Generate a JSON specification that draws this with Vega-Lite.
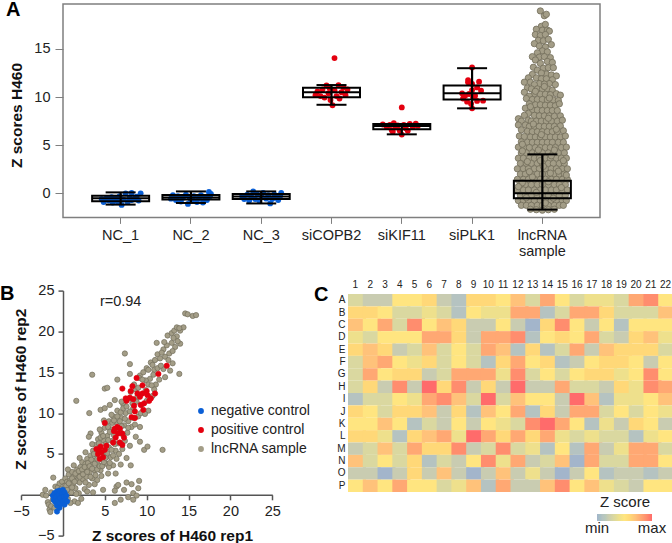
{"$schema":"https://vega.github.io/schema/vega-lite/v6.json","padding":{"left":0,"top":-1,"right":0,"bottom":0},"bounds":"flush","spacing":72.6,"config":{"font":"Liberation Sans","view":{"stroke":null},"axis":{"grid":false,"labelFont":"Liberation Sans","titleFont":"Liberation Sans"},"legend":{"labelFont":"Liberation Sans","titleFont":"Liberation Sans"}},
"datasets":{
"box":[{"cat":"NC_1","lo":-1.17,"q1":-0.83,"med":-0.52,"q3":-0.25,"hi":0.1},{"cat":"NC_2","lo":-1.0,"q1":-0.65,"med":-0.42,"q3":-0.18,"hi":0.2},{"cat":"NC_3","lo":-1.05,"q1":-0.6,"med":-0.33,"q3":-0.07,"hi":0.2},{"cat":"siCOPB2","lo":9.2,"q1":9.97,"med":10.5,"q3":10.98,"hi":11.25},{"cat":"siKIF11","lo":6.13,"q1":6.65,"med":7.0,"q3":7.2,"hi":7.2},{"cat":"siPLK1","lo":8.83,"q1":9.76,"med":10.4,"q3":11.2,"hi":13.0},{"cat":"lncRNA sample","lo":-1.69,"q1":-0.52,"med":0.0,"q3":1.32,"hi":4.05}],
"ctrl":[
{"cat":"NC_1","t":"n","j":-19,"z":-0.6},{"cat":"NC_1","t":"n","j":-17,"z":-0.9},{"cat":"NC_1","t":"n","j":-14,"z":-0.5},{"cat":"NC_1","t":"n","j":-12,"z":-0.75},{"cat":"NC_1","t":"n","j":-9,"z":-0.4},{"cat":"NC_1","t":"n","j":-8,"z":-0.95},{"cat":"NC_1","t":"n","j":-5,"z":-0.55},{"cat":"NC_1","t":"n","j":-3,"z":-0.85},{"cat":"NC_1","t":"n","j":-1,"z":-0.3},{"cat":"NC_1","t":"n","j":1,"z":-1.2},{"cat":"NC_1","t":"n","j":3,"z":-0.65},{"cat":"NC_1","t":"n","j":5,"z":0.0},{"cat":"NC_1","t":"n","j":7,"z":-0.9},{"cat":"NC_1","t":"n","j":9,"z":-0.45},{"cat":"NC_1","t":"n","j":11,"z":-0.7},{"cat":"NC_1","t":"n","j":11,"z":0.05},{"cat":"NC_1","t":"n","j":14,"z":-0.55},{"cat":"NC_1","t":"n","j":16,"z":-0.35},{"cat":"NC_1","t":"n","j":18,"z":-0.75},{"cat":"NC_1","t":"n","j":20,"z":0.0},
{"cat":"NC_2","t":"n","j":-20,"z":-0.55},{"cat":"NC_2","t":"n","j":-18,"z":-0.2},{"cat":"NC_2","t":"n","j":-15,"z":-0.7},{"cat":"NC_2","t":"n","j":-13,"z":-0.3},{"cat":"NC_2","t":"n","j":-10,"z":-0.85},{"cat":"NC_2","t":"n","j":-8,"z":-0.45},{"cat":"NC_2","t":"n","j":-5,"z":-0.15},{"cat":"NC_2","t":"n","j":-3,"z":-1.1},{"cat":"NC_2","t":"n","j":-1,"z":-0.5},{"cat":"NC_2","t":"n","j":1,"z":-0.75},{"cat":"NC_2","t":"n","j":3,"z":-0.3},{"cat":"NC_2","t":"n","j":6,"z":-0.9},{"cat":"NC_2","t":"n","j":8,"z":-0.5},{"cat":"NC_2","t":"n","j":10,"z":-0.2},{"cat":"NC_2","t":"n","j":12,"z":-0.95},{"cat":"NC_2","t":"n","j":14,"z":-0.4},{"cat":"NC_2","t":"n","j":16,"z":-0.7},{"cat":"NC_2","t":"n","j":18,"z":0.15},{"cat":"NC_2","t":"n","j":19,"z":-0.3},{"cat":"NC_2","t":"n","j":20,"z":-0.05},
{"cat":"NC_3","t":"n","j":-19,"z":-0.3},{"cat":"NC_3","t":"n","j":-17,"z":-0.6},{"cat":"NC_3","t":"n","j":-14,"z":-0.15},{"cat":"NC_3","t":"n","j":-12,"z":-0.75},{"cat":"NC_3","t":"n","j":-10,"z":-0.35},{"cat":"NC_3","t":"n","j":-8,"z":0.2},{"cat":"NC_3","t":"n","j":-6,"z":-0.6},{"cat":"NC_3","t":"n","j":-4,"z":-0.1},{"cat":"NC_3","t":"n","j":-2,"z":-0.75},{"cat":"NC_3","t":"n","j":0,"z":-0.3},{"cat":"NC_3","t":"n","j":2,"z":0.05},{"cat":"NC_3","t":"n","j":5,"z":-0.55},{"cat":"NC_3","t":"n","j":7,"z":-0.2},{"cat":"NC_3","t":"n","j":9,"z":-1.05},{"cat":"NC_3","t":"n","j":11,"z":-0.6},{"cat":"NC_3","t":"n","j":13,"z":-0.1},{"cat":"NC_3","t":"n","j":15,"z":-0.45},{"cat":"NC_3","t":"n","j":17,"z":-0.7},{"cat":"NC_3","t":"n","j":19,"z":-0.25},{"cat":"NC_3","t":"n","j":20,"z":0.05},
{"cat":"siCOPB2","t":"p","j":3,"z":14.05},{"cat":"siCOPB2","t":"p","j":-16,"z":10.2},{"cat":"siCOPB2","t":"p","j":-14,"z":10.6},{"cat":"siCOPB2","t":"p","j":-11,"z":10.1},{"cat":"siCOPB2","t":"p","j":-9,"z":10.8},{"cat":"siCOPB2","t":"p","j":-7,"z":9.95},{"cat":"siCOPB2","t":"p","j":-5,"z":11.2},{"cat":"siCOPB2","t":"p","j":-3,"z":10.4},{"cat":"siCOPB2","t":"p","j":-1,"z":9.7},{"cat":"siCOPB2","t":"p","j":1,"z":9.15},{"cat":"siCOPB2","t":"p","j":3,"z":10.7},{"cat":"siCOPB2","t":"p","j":5,"z":10.1},{"cat":"siCOPB2","t":"p","j":7,"z":11.25},{"cat":"siCOPB2","t":"p","j":8,"z":9.85},{"cat":"siCOPB2","t":"p","j":10,"z":10.5},{"cat":"siCOPB2","t":"p","j":12,"z":11.0},{"cat":"siCOPB2","t":"p","j":14,"z":10.2},{"cat":"siCOPB2","t":"p","j":-2,"z":10.95},{"cat":"siCOPB2","t":"p","j":16,"z":10.8},
{"cat":"siKIF11","t":"p","j":0,"z":8.93},{"cat":"siKIF11","t":"p","j":-19,"z":7.15},{"cat":"siKIF11","t":"p","j":-15,"z":6.9},{"cat":"siKIF11","t":"p","j":-12,"z":7.1},{"cat":"siKIF11","t":"p","j":-10,"z":6.55},{"cat":"siKIF11","t":"p","j":-8,"z":7.3},{"cat":"siKIF11","t":"p","j":-6,"z":6.85},{"cat":"siKIF11","t":"p","j":-4,"z":7.05},{"cat":"siKIF11","t":"p","j":-2,"z":6.5},{"cat":"siKIF11","t":"p","j":0,"z":6.1},{"cat":"siKIF11","t":"p","j":2,"z":7.1},{"cat":"siKIF11","t":"p","j":4,"z":6.75},{"cat":"siKIF11","t":"p","j":6,"z":6.5},{"cat":"siKIF11","t":"p","j":8,"z":7.2},{"cat":"siKIF11","t":"p","j":11,"z":6.9},{"cat":"siKIF11","t":"p","j":14,"z":7.25},{"cat":"siKIF11","t":"p","j":16,"z":7.0},{"cat":"siKIF11","t":"p","j":-9,"z":6.4},
{"cat":"siPLK1","t":"p","j":0,"z":13.08},{"cat":"siPLK1","t":"p","j":-4,"z":11.77},{"cat":"siPLK1","t":"p","j":-4,"z":11.53},{"cat":"siPLK1","t":"p","j":7,"z":11.6},{"cat":"siPLK1","t":"p","j":0,"z":11.36},{"cat":"siPLK1","t":"p","j":-10,"z":10.39},{"cat":"siPLK1","t":"p","j":0,"z":10.73},{"cat":"siPLK1","t":"p","j":9,"z":10.66},{"cat":"siPLK1","t":"p","j":-7,"z":10.15},{"cat":"siPLK1","t":"p","j":-3,"z":10.32},{"cat":"siPLK1","t":"p","j":3,"z":10.15},{"cat":"siPLK1","t":"p","j":11,"z":9.63},{"cat":"siPLK1","t":"p","j":-5,"z":9.52},{"cat":"siPLK1","t":"p","j":0,"z":8.83},{"cat":"siPLK1","t":"p","j":-9,"z":9.85},{"cat":"siPLK1","t":"p","j":5,"z":9.6},{"cat":"siPLK1","t":"p","j":1,"z":9.95},{"cat":"siPLK1","t":"p","j":-1,"z":9.3},{"cat":"siPLK1","t":"p","j":5,"z":11.0}],
"swarm":[{"j":-2,"z":18.95},{"j":2,"z":18.45},{"j":4,"z":18.6},{"j":-1,"z":17.35},{"j":3,"z":17.55},{"j":-6,"z":17.05},{"j":0,"z":16.95},{"j":5,"z":16.95},{"j":7,"z":16.85},{"j":-7,"z":16.5},{"j":-2,"z":16.4},{"j":3,"z":16.5},{"j":-4,"z":15.9},{"j":1,"z":15.85},{"j":6,"z":16.0},{"j":-8,"z":15.55},{"j":-3,"z":15.3},{"j":3,"z":15.2},{"j":9,"z":15.45},{"j":0,"z":14.8},{"j":5,"z":14.7},{"j":-5,"z":14.6},{"j":-10,"z":14.2},{"j":-3,"z":14.15},{"j":2,"z":14.2},{"j":8,"z":14.1},{"j":-7,"z":13.85},{"j":5,"z":13.7},{"j":10,"z":13.6},{"j":-2,"z":13.5},{"j":-9,"z":13.1},{"j":1,"z":13.0},{"j":6,"z":13.05},{"j":11,"z":13.05},{"j":-5,"z":12.8},{"j":4,"z":12.4},{"j":-1,"z":12.5},{"j":-10,"z":12.35},{"j":9,"z":12.3},{"j":14,"z":12.2},{"j":-14,"z":12.0},{"j":-6,"z":12.0},{"j":-1,"z":11.9},{"j":4,"z":11.9},{"j":10,"z":11.8},{"j":-18,"z":11.55},{"j":-12,"z":11.55},{"j":7,"z":11.4},{"j":-3,"z":11.4},{"j":2,"z":11.35},{"j":13,"z":11.3},{"j":-8,"z":11.3},{"j":-15,"z":10.95},{"j":-11,"z":10.85},{"j":-5,"z":10.85},{"j":0,"z":10.8},{"j":5,"z":10.85},{"j":10,"z":10.7},{"j":-18,"z":10.5},{"j":-8,"z":10.35},{"j":-2,"z":10.3},{"j":3,"z":10.3},{"j":8,"z":10.25},{"j":14,"z":10.35},{"j":18,"z":10.2},{"j":-13,"z":10.1},{"j":-16,"z":9.85},{"j":-10,"z":9.75},{"j":-5,"z":9.75},{"j":0,"z":9.75},{"j":5,"z":9.7},{"j":11,"z":9.7},{"j":16,"z":9.65},{"j":-13,"z":9.3},{"j":-7,"z":9.2},{"j":-2,"z":9.2},{"j":3,"z":9.15},{"j":8,"z":9.15},{"j":13,"z":9.1},{"j":17,"z":9.3},{"j":-17,"z":8.85},{"j":-10,"z":8.65},{"j":-5,"z":8.65},{"j":0,"z":8.6},{"j":5,"z":8.6},{"j":10,"z":8.6},{"j":15,"z":8.6},{"j":-14,"z":8.3},{"j":-18,"z":8.1},{"j":-8,"z":8.1},{"j":-3,"z":8.05},{"j":2,"z":8.05},{"j":7,"z":8.05},{"j":12,"z":8.0},{"j":18,"z":8.05},{"j":-24,"z":7.75},{"j":-21,"z":7.5},{"j":-14,"z":7.6},{"j":-11,"z":7.5},{"j":-6,"z":7.5},{"j":-1,"z":7.5},{"j":4,"z":7.5},{"j":9,"z":7.5},{"j":15,"z":7.5},{"j":20,"z":7.6},{"j":-24,"z":7.1},{"j":-17,"z":7.1},{"j":-13,"z":6.95},{"j":-8,"z":6.95},{"j":-3,"z":6.95},{"j":2,"z":6.95},{"j":7,"z":6.95},{"j":12,"z":6.95},{"j":18,"z":7.0},{"j":-21,"z":6.6},{"j":-15,"z":6.45},{"j":-10,"z":6.4},{"j":-5,"z":6.4},{"j":0,"z":6.4},{"j":5,"z":6.4},{"j":10,"z":6.4},{"j":15,"z":6.4},{"j":21,"z":6.5},{"j":-23,"z":5.95},{"j":-18,"z":5.9},{"j":-12,"z":5.85},{"j":-7,"z":5.85},{"j":-2,"z":5.85},{"j":3,"z":5.85},{"j":8,"z":5.85},{"j":13,"z":5.85},{"j":18,"z":5.85},{"j":23,"z":5.95},{"j":-21,"z":5.35},{"j":-15,"z":5.3},{"j":-10,"z":5.3},{"j":-5,"z":5.3},{"j":0,"z":5.3},{"j":5,"z":5.3},{"j":10,"z":5.3},{"j":16,"z":5.3},{"j":21,"z":5.3},
{"j":-24,"z":4.8},{"j":-18,"z":4.75},{"j":-13,"z":4.75},{"j":-7,"z":4.75},{"j":-2,"z":4.75},{"j":3,"z":4.75},{"j":8,"z":4.75},{"j":13,"z":4.75},{"j":19,"z":4.75},{"j":24,"z":4.8},{"j":-21,"z":4.2},{"j":-16,"z":4.2},{"j":-10,"z":4.2},{"j":-5,"z":4.2},{"j":0,"z":4.2},{"j":6,"z":4.2},{"j":11,"z":4.2},{"j":16,"z":4.2},{"j":22,"z":4.2},{"j":-24,"z":3.65},{"j":-19,"z":3.65},{"j":-13,"z":3.65},{"j":-8,"z":3.65},{"j":-3,"z":3.65},{"j":3,"z":3.65},{"j":8,"z":3.65},{"j":14,"z":3.65},{"j":19,"z":3.65},{"j":24,"z":3.65},{"j":-22,"z":3.1},{"j":-16,"z":3.1},{"j":-11,"z":3.1},{"j":-5,"z":3.1},{"j":0,"z":3.1},{"j":6,"z":3.1},{"j":11,"z":3.1},{"j":17,"z":3.1},{"j":22,"z":3.1},{"j":-25,"z":2.55},{"j":-19,"z":2.55},{"j":-14,"z":2.55},{"j":-8,"z":2.55},{"j":-3,"z":2.55},{"j":3,"z":2.55},{"j":9,"z":2.55},{"j":14,"z":2.55},{"j":20,"z":2.55},{"j":25,"z":2.55},{"j":-22,"z":2.0},{"j":-17,"z":2.0},{"j":-11,"z":2.0},{"j":-5,"z":2.0},{"j":0,"z":2.0},{"j":6,"z":2.0},{"j":12,"z":2.0},{"j":17,"z":2.0},{"j":22,"z":2.0},{"j":-25,"z":1.45},{"j":-19,"z":1.45},{"j":-14,"z":1.45},{"j":-8,"z":1.45},{"j":-2,"z":1.45},{"j":3,"z":1.45},{"j":9,"z":1.45},{"j":14,"z":1.45},{"j":20,"z":1.45},{"j":25,"z":1.45},{"j":-22,"z":0.9},{"j":-17,"z":0.9},{"j":-11,"z":0.9},{"j":-5,"z":0.9},{"j":0,"z":0.9},{"j":6,"z":0.9},{"j":12,"z":0.9},{"j":17,"z":0.9},{"j":23,"z":0.9},{"j":-25,"z":0.35},{"j":-19,"z":0.35},{"j":-14,"z":0.35},{"j":-8,"z":0.35},{"j":-2,"z":0.35},{"j":3,"z":0.35},{"j":9,"z":0.35},{"j":14,"z":0.35},{"j":20,"z":0.35},{"j":25,"z":0.35},{"j":-22,"z":-0.2},{"j":-17,"z":-0.2},{"j":-11,"z":-0.2},{"j":-5,"z":-0.2},{"j":0,"z":-0.2},{"j":6,"z":-0.2},{"j":12,"z":-0.2},{"j":17,"z":-0.2},{"j":23,"z":-0.2},{"j":-24,"z":-0.75},{"j":-19,"z":-0.75},{"j":-14,"z":-0.75},{"j":-8,"z":-0.75},{"j":-2,"z":-0.75},{"j":3,"z":-0.75},{"j":9,"z":-0.75},{"j":14,"z":-0.75},{"j":20,"z":-0.75},{"j":24,"z":-0.75},{"j":-21,"z":-1.25},{"j":-16,"z":-1.25},{"j":-11,"z":-1.25},{"j":-5,"z":-1.25},{"j":0,"z":-1.25},{"j":6,"z":-1.25},{"j":12,"z":-1.25},{"j":17,"z":-1.25},{"j":21,"z":-1.25},{"j":-12,"z":-1.65},{"j":-6,"z":-1.7},{"j":0,"z":-1.75},{"j":6,"z":-1.7},{"j":12,"z":-1.65},
{"j":-20,"z":5.1},{"j":-4,"z":4.5},{"j":9,"z":3.9},{"j":21,"z":3.4},{"j":-15,"z":3.3},{"j":1,"z":2.8},{"j":16,"z":2.3},{"j":-10,"z":1.7},{"j":6,"z":1.2},{"j":-20,"z":1.1},{"j":19,"z":0.6},{"j":-6,"z":0.1},{"j":11,"z":-0.5},{"j":-16,"z":-0.45},{"j":3,"z":-1.0},{"j":-9,"z":7.2},{"j":14,"z":6.65},{"j":-1,"z":6.1},{"j":6,"z":7.8},{"j":-12,"z":9.0},{"j":7,"z":9.9},{"j":-7,"z":10.6},{"j":2,"z":11.1},{"j":-20,"z":4.4},{"j":12,"z":4.5},{"j":-2,"z":3.4},{"j":24,"z":1.9},{"j":-13,"z":2.25},{"j":8,"z":2.1},{"j":-24,"z":0.7}],
"scatter":[
{"x":-2.4,"y":0,"t":"lncRNA sample"},{"x":-2,"y":-0.1,"t":"lncRNA sample"},{"x":-2.1,"y":0.6,"t":"lncRNA sample"},{"x":-1.8,"y":-0.9,"t":"lncRNA sample"},{"x":-1.6,"y":-1.8,"t":"lncRNA sample"},{"x":-1.5,"y":-2.1,"t":"lncRNA sample"},{"x":-1.7,"y":-1.2,"t":"lncRNA sample"},{"x":-1.4,"y":0.3,"t":"lncRNA sample"},{"x":-1.15,"y":2.1,"t":"lncRNA sample"},{"x":-1.2,"y":-0.6,"t":"lncRNA sample"},{"x":-0.9,"y":1.0,"t":"lncRNA sample"},{"x":-1.4,"y":-1.4,"t":"lncRNA sample"},{"x":-1.0,"y":-1.6,"t":"lncRNA sample"},{"x":-0.6,"y":0.9,"t":"lncRNA sample"},{"x":-0.4,"y":1.4,"t":"lncRNA sample"},{"x":-0.2,"y":0.7,"t":"lncRNA sample"},{"x":-0.1,"y":1.6,"t":"lncRNA sample"},{"x":0.1,"y":-0.3,"t":"lncRNA sample"},{"x":0.2,"y":1.1,"t":"lncRNA sample"},{"x":0.3,"y":2,"t":"lncRNA sample"},{"x":0.4,"y":0.4,"t":"lncRNA sample"},{"x":0.5,"y":1.6,"t":"lncRNA sample"},{"x":0.6,"y":-0.5,"t":"lncRNA sample"},{"x":0.7,"y":2.5,"t":"lncRNA sample"},{"x":0.8,"y":0.9,"t":"lncRNA sample"},{"x":0.9,"y":1.8,"t":"lncRNA sample"},{"x":1,"y":0.3,"t":"lncRNA sample"},{"x":1.1,"y":2.8,"t":"lncRNA sample"},{"x":1.2,"y":1.3,"t":"lncRNA sample"},{"x":1.3,"y":2.2,"t":"lncRNA sample"},{"x":1.4,"y":-0.8,"t":"lncRNA sample"},{"x":1.5,"y":0.8,"t":"lncRNA sample"},{"x":1.6,"y":1.7,"t":"lncRNA sample"},{"x":1.7,"y":3.1,"t":"lncRNA sample"},{"x":1.8,"y":2.4,"t":"lncRNA sample"},{"x":1.9,"y":0.2,"t":"lncRNA sample"},{"x":2,"y":1.5,"t":"lncRNA sample"},{"x":2.1,"y":3.4,"t":"lncRNA sample"},{"x":2.2,"y":2.6,"t":"lncRNA sample"},{"x":2.3,"y":4,"t":"lncRNA sample"},{"x":2.4,"y":1.9,"t":"lncRNA sample"},{"x":2.5,"y":3,"t":"lncRNA sample"},{"x":2.6,"y":0.7,"t":"lncRNA sample"},{"x":2.7,"y":3.8,"t":"lncRNA sample"},{"x":2.8,"y":2.2,"t":"lncRNA sample"},{"x":2.9,"y":4.4,"t":"lncRNA sample"},{"x":3,"y":3.2,"t":"lncRNA sample"},{"x":3.1,"y":1.2,"t":"lncRNA sample"},{"x":3.2,"y":2.7,"t":"lncRNA sample"},{"x":3.3,"y":4.8,"t":"lncRNA sample"},{"x":3.4,"y":3.7,"t":"lncRNA sample"},{"x":3.5,"y":2,"t":"lncRNA sample"},{"x":3.6,"y":5.4,"t":"lncRNA sample"},{"x":3.7,"y":4.2,"t":"lncRNA sample"},{"x":3.8,"y":3,"t":"lncRNA sample"},{"x":3.9,"y":6.1,"t":"lncRNA sample"},{"x":4,"y":4.9,"t":"lncRNA sample"},{"x":4.1,"y":1.8,"t":"lncRNA sample"},{"x":4.2,"y":3.7,"t":"lncRNA sample"},{"x":4.2,"y":6.8,"t":"lncRNA sample"},{"x":3.3,"y":7.5,"t":"lncRNA sample"},{"x":3.1,"y":7.1,"t":"lncRNA sample"},{"x":4.4,"y":5.8,"t":"lncRNA sample"},{"x":4.5,"y":3,"t":"lncRNA sample"},{"x":4.6,"y":7.6,"t":"lncRNA sample"},{"x":4.7,"y":4.3,"t":"lncRNA sample"},{"x":4.8,"y":0.6,"t":"lncRNA sample"},{"x":4.9,"y":6.6,"t":"lncRNA sample"},{"x":5,"y":5.2,"t":"lncRNA sample"},{"x":5,"y":8.2,"t":"lncRNA sample"},{"x":5.2,"y":3.8,"t":"lncRNA sample"},{"x":5.3,"y":7.2,"t":"lncRNA sample"},{"x":5.4,"y":2.6,"t":"lncRNA sample"},{"x":5.5,"y":9,"t":"lncRNA sample"},{"x":5.5,"y":5.8,"t":"lncRNA sample"},{"x":5.7,"y":4.6,"t":"lncRNA sample"},{"x":5.8,"y":8,"t":"lncRNA sample"},{"x":5.9,"y":6.6,"t":"lncRNA sample"},{"x":6,"y":3.6,"t":"lncRNA sample"},{"x":6,"y":9.6,"t":"lncRNA sample"},{"x":6.1,"y":7.3,"t":"lncRNA sample"},{"x":6.3,"y":2.6,"t":"lncRNA sample"},{"x":6.3,"y":5.4,"t":"lncRNA sample"},{"x":6.4,"y":8.9,"t":"lncRNA sample"},{"x":6.4,"y":1,"t":"lncRNA sample"},{"x":6.5,"y":10.3,"t":"lncRNA sample"},{"x":6.6,"y":6.3,"t":"lncRNA sample"},{"x":6.8,"y":7.8,"t":"lncRNA sample"},{"x":6.9,"y":3.7,"t":"lncRNA sample"},{"x":7,"y":9.4,"t":"lncRNA sample"},{"x":7.1,"y":5.6,"t":"lncRNA sample"},{"x":7.2,"y":11.1,"t":"lncRNA sample"},{"x":7.3,"y":8.5,"t":"lncRNA sample"},{"x":7.4,"y":6.6,"t":"lncRNA sample"},{"x":7.5,"y":10,"t":"lncRNA sample"},{"x":7.6,"y":4.5,"t":"lncRNA sample"},{"x":7.7,"y":7.6,"t":"lncRNA sample"},{"x":7.8,"y":9,"t":"lncRNA sample"},{"x":7.9,"y":11.8,"t":"lncRNA sample"},{"x":8,"y":6,"t":"lncRNA sample"},{"x":8.1,"y":3.6,"t":"lncRNA sample"},{"x":8.2,"y":8.3,"t":"lncRNA sample"},
{"x":8.4,"y":10.6,"t":"lncRNA sample"},{"x":8.5,"y":13.5,"t":"lncRNA sample"},{"x":8.7,"y":7.1,"t":"lncRNA sample"},{"x":8.9,"y":12,"t":"lncRNA sample"},{"x":9,"y":9.6,"t":"lncRNA sample"},{"x":9.2,"y":14.6,"t":"lncRNA sample"},{"x":9.2,"y":8.3,"t":"lncRNA sample"},{"x":9.4,"y":11,"t":"lncRNA sample"},{"x":9.6,"y":15,"t":"lncRNA sample"},{"x":9.7,"y":5.5,"t":"lncRNA sample"},{"x":9.9,"y":12.8,"t":"lncRNA sample"},{"x":10,"y":15.5,"t":"lncRNA sample"},{"x":10.1,"y":5.9,"t":"lncRNA sample"},{"x":10.2,"y":10.3,"t":"lncRNA sample"},{"x":10.4,"y":14.2,"t":"lncRNA sample"},{"x":10.5,"y":16.2,"t":"lncRNA sample"},{"x":10.7,"y":12.1,"t":"lncRNA sample"},{"x":10.9,"y":15.3,"t":"lncRNA sample"},{"x":11,"y":16.5,"t":"lncRNA sample"},{"x":11.1,"y":13.5,"t":"lncRNA sample"},{"x":11.2,"y":18.6,"t":"lncRNA sample"},{"x":11.3,"y":17.2,"t":"lncRNA sample"},{"x":11.5,"y":14.1,"t":"lncRNA sample"},{"x":11.6,"y":16.7,"t":"lncRNA sample"},{"x":11.9,"y":5.5,"t":"lncRNA sample"},{"x":12,"y":17.8,"t":"lncRNA sample"},{"x":12,"y":15.4,"t":"lncRNA sample"},{"x":12.2,"y":16.9,"t":"lncRNA sample"},{"x":12.2,"y":14.4,"t":"lncRNA sample"},{"x":12.4,"y":18.3,"t":"lncRNA sample"},{"x":12.5,"y":19.5,"t":"lncRNA sample"},{"x":12.7,"y":17.3,"t":"lncRNA sample"},{"x":12.8,"y":15.2,"t":"lncRNA sample"},{"x":13,"y":18.6,"t":"lncRNA sample"},{"x":13,"y":19.8,"t":"lncRNA sample"},{"x":13.1,"y":16.1,"t":"lncRNA sample"},{"x":13.3,"y":20.1,"t":"lncRNA sample"},{"x":13.4,"y":18.1,"t":"lncRNA sample"},{"x":13.6,"y":19.4,"t":"lncRNA sample"},{"x":13.6,"y":20.5,"t":"lncRNA sample"},{"x":13.9,"y":14.8,"t":"lncRNA sample"},{"x":14,"y":20.1,"t":"lncRNA sample"},{"x":14,"y":18.5,"t":"lncRNA sample"},{"x":14.4,"y":20.5,"t":"lncRNA sample"},{"x":14.6,"y":22.2,"t":"lncRNA sample"},{"x":14.9,"y":22.1,"t":"lncRNA sample"},{"x":15.5,"y":21.9,"t":"lncRNA sample"},{"x":15.9,"y":22,"t":"lncRNA sample"},
{"x":4.5,"y":10.4,"t":"lncRNA sample"},{"x":5,"y":10.6,"t":"lncRNA sample"},{"x":5.6,"y":11,"t":"lncRNA sample"},{"x":6.2,"y":11.6,"t":"lncRNA sample"},{"x":7,"y":11.4,"t":"lncRNA sample"},{"x":5,"y":13,"t":"lncRNA sample"},{"x":5.3,"y":13.1,"t":"lncRNA sample"},{"x":6.5,"y":14.1,"t":"lncRNA sample"},{"x":7.4,"y":17.3,"t":"lncRNA sample"},{"x":3.5,"y":14.7,"t":"lncRNA sample"},{"x":1.6,"y":11.5,"t":"lncRNA sample"},{"x":3.15,"y":10,"t":"lncRNA sample"},{"x":8,"y":16,"t":"lncRNA sample"},{"x":8,"y":14.8,"t":"lncRNA sample"},{"x":6.2,"y":0.5,"t":"lncRNA sample"},{"x":6.6,"y":1.2,"t":"lncRNA sample"},{"x":7.6,"y":1.5,"t":"lncRNA sample"},{"x":7.3,"y":0.6,"t":"lncRNA sample"},{"x":8.2,"y":1.3,"t":"lncRNA sample"},{"x":9.1,"y":1.7,"t":"lncRNA sample"},{"x":9,"y":0.8,"t":"lncRNA sample"},{"x":8.4,"y":0.2,"t":"lncRNA sample"},{"x":6.2,"y":-1,"t":"lncRNA sample"},{"x":8.4,"y":-0.6,"t":"lncRNA sample"},{"x":7.8,"y":-0.3,"t":"lncRNA sample"},{"x":6.9,"y":-0.6,"t":"lncRNA sample"},{"x":8.8,"y":-0.1,"t":"lncRNA sample"},{"x":1.8,"y":-1,"t":"lncRNA sample"},{"x":2.2,"y":-0.5,"t":"lncRNA sample"},{"x":3.6,"y":0.3,"t":"lncRNA sample"},{"x":2.9,"y":0.4,"t":"lncRNA sample"},{"x":0.6,"y":3.1,"t":"lncRNA sample"},{"x":1.3,"y":3.6,"t":"lncRNA sample"},{"x":2,"y":4.5,"t":"lncRNA sample"},{"x":2.7,"y":5.2,"t":"lncRNA sample"},{"x":3.5,"y":6.2,"t":"lncRNA sample"},{"x":4.4,"y":8,"t":"lncRNA sample"},{"x":4.9,"y":9.1,"t":"lncRNA sample"},{"x":5.8,"y":9.8,"t":"lncRNA sample"},{"x":7.2,"y":7.3,"t":"lncRNA sample"},{"x":6.4,"y":4.4,"t":"lncRNA sample"},{"x":4.6,"y":2.3,"t":"lncRNA sample"},{"x":3.8,"y":1.3,"t":"lncRNA sample"},{"x":5.5,"y":3.4,"t":"lncRNA sample"},{"x":9.2,"y":6.5,"t":"lncRNA sample"},{"x":8.4,"y":9.4,"t":"lncRNA sample"},{"x":10,"y":11.5,"t":"lncRNA sample"},{"x":10.9,"y":12.9,"t":"lncRNA sample"},{"x":8.7,"y":12.9,"t":"lncRNA sample"},{"x":9.9,"y":14,"t":"lncRNA sample"},{"x":10.8,"y":14.7,"t":"lncRNA sample"},{"x":9.1,"y":14.3,"t":"lncRNA sample"},
{"x":0.4,"y":1.1,"t":"lncRNA sample"},{"x":0.7,"y":1.4,"t":"lncRNA sample"},{"x":1.1,"y":2.0,"t":"lncRNA sample"},{"x":1.4,"y":1.6,"t":"lncRNA sample"},{"x":1.5,"y":2.6,"t":"lncRNA sample"},{"x":1.9,"y":2.9,"t":"lncRNA sample"},{"x":2,"y":2.2,"t":"lncRNA sample"},{"x":2.3,"y":3.1,"t":"lncRNA sample"},{"x":2.4,"y":2.5,"t":"lncRNA sample"},{"x":2.6,"y":3.4,"t":"lncRNA sample"},{"x":2.7,"y":1.5,"t":"lncRNA sample"},{"x":2.9,"y":2.8,"t":"lncRNA sample"},{"x":3,"y":3.9,"t":"lncRNA sample"},{"x":3.2,"y":3.5,"t":"lncRNA sample"},{"x":3.3,"y":2.2,"t":"lncRNA sample"},{"x":3.4,"y":4.3,"t":"lncRNA sample"},{"x":3.5,"y":3.2,"t":"lncRNA sample"},{"x":3.7,"y":5,"t":"lncRNA sample"},{"x":3.8,"y":3.8,"t":"lncRNA sample"},{"x":3.9,"y":2.4,"t":"lncRNA sample"},{"x":4.1,"y":4.4,"t":"lncRNA sample"},{"x":4.1,"y":3.1,"t":"lncRNA sample"},{"x":4.3,"y":6.3,"t":"lncRNA sample"},{"x":4.4,"y":3.5,"t":"lncRNA sample"},{"x":4.5,"y":7,"t":"lncRNA sample"},{"x":4.7,"y":3.5,"t":"lncRNA sample"},{"x":4.8,"y":7.2,"t":"lncRNA sample"},{"x":4.9,"y":4,"t":"lncRNA sample"},{"x":5.1,"y":6.2,"t":"lncRNA sample"},{"x":5.1,"y":4.5,"t":"lncRNA sample"},{"x":5.3,"y":5.1,"t":"lncRNA sample"},{"x":5.4,"y":6.7,"t":"lncRNA sample"},{"x":5.4,"y":8.3,"t":"lncRNA sample"},{"x":5.6,"y":7.7,"t":"lncRNA sample"},{"x":5.6,"y":3.9,"t":"lncRNA sample"},{"x":5.8,"y":5.5,"t":"lncRNA sample"},{"x":5.9,"y":8.8,"t":"lncRNA sample"},{"x":6,"y":4.8,"t":"lncRNA sample"},{"x":6.1,"y":9.1,"t":"lncRNA sample"},{"x":6.2,"y":6.2,"t":"lncRNA sample"},{"x":6.5,"y":9.6,"t":"lncRNA sample"},{"x":6.7,"y":5,"t":"lncRNA sample"},{"x":6.8,"y":9,"t":"lncRNA sample"},{"x":6.9,"y":10.1,"t":"lncRNA sample"},{"x":7,"y":8.4,"t":"lncRNA sample"},{"x":7.2,"y":10.6,"t":"lncRNA sample"},{"x":7.4,"y":9.3,"t":"lncRNA sample"},{"x":7.6,"y":10.8,"t":"lncRNA sample"},{"x":7.8,"y":8.2,"t":"lncRNA sample"},{"x":8,"y":10.2,"t":"lncRNA sample"},{"x":8.1,"y":12.6,"t":"lncRNA sample"},{"x":8.3,"y":11.2,"t":"lncRNA sample"},{"x":8.6,"y":8.6,"t":"lncRNA sample"},{"x":8.8,"y":11.4,"t":"lncRNA sample"},{"x":9,"y":13.1,"t":"lncRNA sample"},{"x":9.3,"y":10,"t":"lncRNA sample"},{"x":9.5,"y":14.1,"t":"lncRNA sample"},{"x":9.8,"y":9.9,"t":"lncRNA sample"},{"x":10.2,"y":13.5,"t":"lncRNA sample"},{"x":10.6,"y":13.4,"t":"lncRNA sample"},{"x":10.2,"y":15.3,"t":"lncRNA sample"},{"x":10.7,"y":15.9,"t":"lncRNA sample"},{"x":11.3,"y":15.5,"t":"lncRNA sample"},{"x":11.7,"y":15.8,"t":"lncRNA sample"},{"x":11.8,"y":17.4,"t":"lncRNA sample"},{"x":12.1,"y":18.7,"t":"lncRNA sample"},{"x":12.6,"y":16.5,"t":"lncRNA sample"},{"x":13.1,"y":17.6,"t":"lncRNA sample"},{"x":13.2,"y":19.2,"t":"lncRNA sample"},{"x":13.7,"y":18.8,"t":"lncRNA sample"},{"x":13.9,"y":20.4,"t":"lncRNA sample"},{"x":0.9,"y":-1,"t":"lncRNA sample"},{"x":0.5,"y":0.6,"t":"lncRNA sample"},{"x":1.6,"y":0.1,"t":"lncRNA sample"},{"x":1.1,"y":0.9,"t":"lncRNA sample"},
{"x":4,"y":5.6,"t":"p"},{"x":4.2,"y":5,"t":"p"},{"x":4.4,"y":4.4,"t":"p"},{"x":4.5,"y":5.9,"t":"p"},{"x":4.6,"y":5.2,"t":"p"},{"x":4.8,"y":4.6,"t":"p"},{"x":5,"y":5.5,"t":"p"},{"x":4.3,"y":5.4,"t":"p"},{"x":5.2,"y":6,"t":"p"},{"x":5,"y":8.8,"t":"p"},{"x":6,"y":6.4,"t":"p"},{"x":6.1,"y":7.8,"t":"p"},{"x":6.2,"y":8.1,"t":"p"},{"x":6.3,"y":7,"t":"p"},{"x":6.5,"y":8.3,"t":"p"},{"x":6.6,"y":7.5,"t":"p"},{"x":6.8,"y":8.1,"t":"p"},{"x":6.8,"y":6.4,"t":"p"},{"x":7.1,"y":7.5,"t":"p"},{"x":7.1,"y":6.1,"t":"p"},{"x":7.3,"y":7,"t":"p"},{"x":7.1,"y":13,"t":"p"},{"x":7.5,"y":11.8,"t":"p"},{"x":7.6,"y":11.5,"t":"p"},{"x":8,"y":11.9,"t":"p"},{"x":8.1,"y":12.7,"t":"p"},{"x":8.2,"y":9.5,"t":"p"},{"x":8.3,"y":13.3,"t":"p"},{"x":8.4,"y":11.7,"t":"p"},{"x":8.5,"y":10.9,"t":"p"},{"x":8.6,"y":9.4,"t":"p"},{"x":8.6,"y":10.2,"t":"p"},{"x":8.8,"y":14.3,"t":"p"},{"x":8.9,"y":12.4,"t":"p"},{"x":9.2,"y":12,"t":"p"},{"x":9.3,"y":11,"t":"p"},{"x":9.5,"y":13.4,"t":"p"},{"x":9.5,"y":12.4,"t":"p"},{"x":9.6,"y":10.4,"t":"p"},{"x":9.7,"y":11.2,"t":"p"},{"x":10,"y":12.7,"t":"p"},{"x":10.1,"y":12.2,"t":"p"},{"x":10.3,"y":11.5,"t":"p"},{"x":10.5,"y":11.8,"t":"p"},{"x":11,"y":12.4,"t":"p"},{"x":11.4,"y":14.8,"t":"p"},{"x":12.4,"y":15.8,"t":"p"},
{"x":-1.2,"y":-0.1,"t":"n"},{"x":-1.1,"y":-0.6,"t":"n"},{"x":-1,"y":0.2,"t":"n"},{"x":-0.9,"y":-0.9,"t":"n"},{"x":-0.8,"y":-0.3,"t":"n"},{"x":-0.7,"y":0.4,"t":"n"},{"x":-0.7,"y":-1.3,"t":"n"},{"x":-0.6,"y":-0.7,"t":"n"},{"x":-0.5,"y":0,"t":"n"},{"x":-0.7,"y":-2.05,"t":"n"},{"x":-0.4,"y":-1.6,"t":"n"},{"x":-0.4,"y":0.5,"t":"n"},{"x":-0.3,"y":-0.4,"t":"n"},{"x":-0.2,"y":-1.1,"t":"n"},{"x":-0.1,"y":0.2,"t":"n"},{"x":0,"y":-0.8,"t":"n"},{"x":0,"y":0.6,"t":"n"},{"x":0.1,"y":-0.2,"t":"n"},{"x":0.2,"y":-1.2,"t":"n"},{"x":0.2,"y":0.3,"t":"n"},{"x":0.3,"y":-0.6,"t":"n"},{"x":0.4,"y":-0.1,"t":"n"},{"x":0.5,"y":-0.8,"t":"n"}],
"note":[{"x":6.9,"y":23.6,"label":"r=0.94"}],
"cells":[{"r":"A","c":1,"z":3},{"r":"A","c":2,"z":2},{"r":"A","c":3,"z":2},{"r":"A","c":4,"z":5},{"r":"A","c":5,"z":5},{"r":"A","c":6,"z":6},{"r":"A","c":7,"z":2},{"r":"A","c":8,"z":1},{"r":"A","c":9,"z":6},{"r":"A","c":10,"z":6},{"r":"A","c":11,"z":5},{"r":"A","c":12,"z":7},{"r":"A","c":13,"z":3},{"r":"A","c":14,"z":8},{"r":"A","c":15,"z":5},{"r":"A","c":16,"z":3},{"r":"A","c":17,"z":4},{"r":"A","c":18,"z":4},{"r":"A","c":19,"z":3},{"r":"A","c":20,"z":8},{"r":"A","c":21,"z":9},{"r":"A","c":22,"z":5},
{"r":"B","c":1,"z":6},{"r":"B","c":2,"z":6},{"r":"B","c":3,"z":5},{"r":"B","c":4,"z":3},{"r":"B","c":5,"z":3},{"r":"B","c":6,"z":4},{"r":"B","c":7,"z":3},{"r":"B","c":8,"z":1},{"r":"B","c":9,"z":5},{"r":"B","c":10,"z":4},{"r":"B","c":11,"z":4},{"r":"B","c":12,"z":8},{"r":"B","c":13,"z":8},{"r":"B","c":14,"z":1},{"r":"B","c":15,"z":3},{"r":"B","c":16,"z":8},{"r":"B","c":17,"z":8},{"r":"B","c":18,"z":6},{"r":"B","c":19,"z":3},{"r":"B","c":20,"z":3},{"r":"B","c":21,"z":3},{"r":"B","c":22,"z":7},
{"r":"C","c":1,"z":7},{"r":"C","c":2,"z":5},{"r":"C","c":3,"z":8},{"r":"C","c":4,"z":3},{"r":"C","c":5,"z":9},{"r":"C","c":6,"z":5},{"r":"C","c":7,"z":7},{"r":"C","c":8,"z":6},{"r":"C","c":9,"z":2},{"r":"C","c":10,"z":2},{"r":"C","c":11,"z":5},{"r":"C","c":12,"z":2},{"r":"C","c":13,"z":0},{"r":"C","c":14,"z":6},{"r":"C","c":15,"z":9},{"r":"C","c":16,"z":5},{"r":"C","c":17,"z":2},{"r":"C","c":18,"z":5},{"r":"C","c":19,"z":1},{"r":"C","c":20,"z":5},{"r":"C","c":21,"z":5},{"r":"C","c":22,"z":5},
{"r":"D","c":1,"z":4},{"r":"D","c":2,"z":3},{"r":"D","c":3,"z":5},{"r":"D","c":4,"z":5},{"r":"D","c":5,"z":5},{"r":"D","c":6,"z":8},{"r":"D","c":7,"z":8},{"r":"D","c":8,"z":6},{"r":"D","c":9,"z":2},{"r":"D","c":10,"z":8},{"r":"D","c":11,"z":8},{"r":"D","c":12,"z":9},{"r":"D","c":13,"z":1},{"r":"D","c":14,"z":5},{"r":"D","c":15,"z":6},{"r":"D","c":16,"z":5},{"r":"D","c":17,"z":8},{"r":"D","c":18,"z":3},{"r":"D","c":19,"z":2},{"r":"D","c":20,"z":6},{"r":"D","c":21,"z":7},{"r":"D","c":22,"z":4},
{"r":"E","c":1,"z":6},{"r":"E","c":2,"z":7},{"r":"E","c":3,"z":6},{"r":"E","c":4,"z":2},{"r":"E","c":5,"z":3},{"r":"E","c":6,"z":7},{"r":"E","c":7,"z":3},{"r":"E","c":8,"z":5},{"r":"E","c":9,"z":3},{"r":"E","c":10,"z":8},{"r":"E","c":11,"z":7},{"r":"E","c":12,"z":1},{"r":"E","c":13,"z":6},{"r":"E","c":14,"z":1},{"r":"E","c":15,"z":3},{"r":"E","c":16,"z":8},{"r":"E","c":17,"z":2},{"r":"E","c":18,"z":7},{"r":"E","c":19,"z":6},{"r":"E","c":20,"z":6},{"r":"E","c":21,"z":6},{"r":"E","c":22,"z":3},
{"r":"F","c":1,"z":3},{"r":"F","c":2,"z":7},{"r":"F","c":3,"z":8},{"r":"F","c":4,"z":5},{"r":"F","c":5,"z":4},{"r":"F","c":6,"z":6},{"r":"F","c":7,"z":3},{"r":"F","c":8,"z":5},{"r":"F","c":9,"z":3},{"r":"F","c":10,"z":1},{"r":"F","c":11,"z":6},{"r":"F","c":12,"z":8},{"r":"F","c":13,"z":5},{"r":"F","c":14,"z":6},{"r":"F","c":15,"z":1},{"r":"F","c":16,"z":2},{"r":"F","c":17,"z":5},{"r":"F","c":18,"z":6},{"r":"F","c":19,"z":6},{"r":"F","c":20,"z":5},{"r":"F","c":21,"z":2},{"r":"F","c":22,"z":5},
{"r":"G","c":1,"z":3},{"r":"G","c":2,"z":8},{"r":"G","c":3,"z":5},{"r":"G","c":4,"z":6},{"r":"G","c":5,"z":6},{"r":"G","c":6,"z":2},{"r":"G","c":7,"z":3},{"r":"G","c":8,"z":8},{"r":"G","c":9,"z":8},{"r":"G","c":10,"z":8},{"r":"G","c":11,"z":4},{"r":"G","c":12,"z":9},{"r":"G","c":13,"z":3},{"r":"G","c":14,"z":5},{"r":"G","c":15,"z":3},{"r":"G","c":16,"z":5},{"r":"G","c":17,"z":6},{"r":"G","c":18,"z":6},{"r":"G","c":19,"z":4},{"r":"G","c":20,"z":5},{"r":"G","c":21,"z":9},{"r":"G","c":22,"z":5},
{"r":"H","c":1,"z":3},{"r":"H","c":2,"z":6},{"r":"H","c":3,"z":2},{"r":"H","c":4,"z":9},{"r":"H","c":5,"z":2},{"r":"H","c":6,"z":10},{"r":"H","c":7,"z":6},{"r":"H","c":8,"z":9},{"r":"H","c":9,"z":2},{"r":"H","c":10,"z":6},{"r":"H","c":11,"z":2},{"r":"H","c":12,"z":10},{"r":"H","c":13,"z":2},{"r":"H","c":14,"z":2},{"r":"H","c":15,"z":8},{"r":"H","c":16,"z":3},{"r":"H","c":17,"z":3},{"r":"H","c":18,"z":2},{"r":"H","c":19,"z":6},{"r":"H","c":20,"z":4},{"r":"H","c":21,"z":9},{"r":"H","c":22,"z":8},
{"r":"I","c":1,"z":1},{"r":"I","c":2,"z":3},{"r":"I","c":3,"z":3},{"r":"I","c":4,"z":5},{"r":"I","c":5,"z":4},{"r":"I","c":6,"z":8},{"r":"I","c":7,"z":9},{"r":"I","c":8,"z":7},{"r":"I","c":9,"z":3},{"r":"I","c":10,"z":10},{"r":"I","c":11,"z":3},{"r":"I","c":12,"z":7},{"r":"I","c":13,"z":5},{"r":"I","c":14,"z":5},{"r":"I","c":15,"z":2},{"r":"I","c":16,"z":10},{"r":"I","c":17,"z":7},{"r":"I","c":18,"z":1},{"r":"I","c":19,"z":4},{"r":"I","c":20,"z":4},{"r":"I","c":21,"z":5},{"r":"I","c":22,"z":7},
{"r":"J","c":1,"z":6},{"r":"J","c":2,"z":5},{"r":"J","c":3,"z":3},{"r":"J","c":4,"z":6},{"r":"J","c":5,"z":6},{"r":"J","c":6,"z":7},{"r":"J","c":7,"z":2},{"r":"J","c":8,"z":6},{"r":"J","c":9,"z":1},{"r":"J","c":10,"z":7},{"r":"J","c":11,"z":5},{"r":"J","c":12,"z":8},{"r":"J","c":13,"z":1},{"r":"J","c":14,"z":6},{"r":"J","c":15,"z":2},{"r":"J","c":16,"z":8},{"r":"J","c":17,"z":8},{"r":"J","c":18,"z":3},{"r":"J","c":19,"z":5},{"r":"J","c":20,"z":3},{"r":"J","c":21,"z":5},{"r":"J","c":22,"z":4},
{"r":"K","c":1,"z":5},{"r":"K","c":2,"z":5},{"r":"K","c":3,"z":7},{"r":"K","c":4,"z":5},{"r":"K","c":5,"z":1},{"r":"K","c":6,"z":3},{"r":"K","c":7,"z":2},{"r":"K","c":8,"z":5},{"r":"K","c":9,"z":2},{"r":"K","c":10,"z":5},{"r":"K","c":11,"z":4},{"r":"K","c":12,"z":3},{"r":"K","c":13,"z":9},{"r":"K","c":14,"z":10},{"r":"K","c":15,"z":8},{"r":"K","c":16,"z":5},{"r":"K","c":17,"z":1},{"r":"K","c":18,"z":4},{"r":"K","c":19,"z":2},{"r":"K","c":20,"z":6},{"r":"K","c":21,"z":5},{"r":"K","c":22,"z":2},
{"r":"L","c":1,"z":6},{"r":"L","c":2,"z":6},{"r":"L","c":3,"z":4},{"r":"L","c":4,"z":1},{"r":"L","c":5,"z":6},{"r":"L","c":6,"z":7},{"r":"L","c":7,"z":8},{"r":"L","c":8,"z":4},{"r":"L","c":9,"z":10},{"r":"L","c":10,"z":8},{"r":"L","c":11,"z":6},{"r":"L","c":12,"z":8},{"r":"L","c":13,"z":6},{"r":"L","c":14,"z":8},{"r":"L","c":15,"z":4},{"r":"L","c":16,"z":3},{"r":"L","c":17,"z":4},{"r":"L","c":18,"z":3},{"r":"L","c":19,"z":3},{"r":"L","c":20,"z":1},{"r":"L","c":21,"z":4},{"r":"L","c":22,"z":5},
{"r":"M","c":1,"z":2},{"r":"M","c":2,"z":3},{"r":"M","c":3,"z":7},{"r":"M","c":4,"z":3},{"r":"M","c":5,"z":8},{"r":"M","c":6,"z":6},{"r":"M","c":7,"z":6},{"r":"M","c":8,"z":9},{"r":"M","c":9,"z":2},{"r":"M","c":10,"z":3},{"r":"M","c":11,"z":9},{"r":"M","c":12,"z":3},{"r":"M","c":13,"z":4},{"r":"M","c":14,"z":1},{"r":"M","c":15,"z":5},{"r":"M","c":16,"z":1},{"r":"M","c":17,"z":8},{"r":"M","c":18,"z":2},{"r":"M","c":19,"z":4},{"r":"M","c":20,"z":8},{"r":"M","c":21,"z":8},{"r":"M","c":22,"z":3},
{"r":"N","c":1,"z":7},{"r":"N","c":2,"z":3},{"r":"N","c":3,"z":5},{"r":"N","c":4,"z":3},{"r":"N","c":5,"z":6},{"r":"N","c":6,"z":1},{"r":"N","c":7,"z":3},{"r":"N","c":8,"z":2},{"r":"N","c":9,"z":5},{"r":"N","c":10,"z":9},{"r":"N","c":11,"z":4},{"r":"N","c":12,"z":8},{"r":"N","c":13,"z":2},{"r":"N","c":14,"z":3},{"r":"N","c":15,"z":7},{"r":"N","c":16,"z":0},{"r":"N","c":17,"z":8},{"r":"N","c":18,"z":3},{"r":"N","c":19,"z":3},{"r":"N","c":20,"z":8},{"r":"N","c":21,"z":8},{"r":"N","c":22,"z":5},
{"r":"O","c":1,"z":2},{"r":"O","c":2,"z":2},{"r":"O","c":3,"z":0},{"r":"O","c":4,"z":2},{"r":"O","c":5,"z":6},{"r":"O","c":6,"z":2},{"r":"O","c":7,"z":7},{"r":"O","c":8,"z":2},{"r":"O","c":9,"z":0},{"r":"O","c":10,"z":2},{"r":"O","c":11,"z":7},{"r":"O","c":12,"z":2},{"r":"O","c":13,"z":4},{"r":"O","c":14,"z":2},{"r":"O","c":15,"z":0},{"r":"O","c":16,"z":2},{"r":"O","c":17,"z":5},{"r":"O","c":18,"z":1},{"r":"O","c":19,"z":2},{"r":"O","c":20,"z":2},{"r":"O","c":21,"z":1},{"r":"O","c":22,"z":2},
{"r":"P","c":1,"z":5},{"r":"P","c":2,"z":7},{"r":"P","c":3,"z":5},{"r":"P","c":4,"z":8},{"r":"P","c":5,"z":5},{"r":"P","c":6,"z":5},{"r":"P","c":7,"z":3},{"r":"P","c":8,"z":4},{"r":"P","c":9,"z":7},{"r":"P","c":10,"z":1},{"r":"P","c":11,"z":8},{"r":"P","c":12,"z":2},{"r":"P","c":13,"z":2},{"r":"P","c":14,"z":7},{"r":"P","c":15,"z":9},{"r":"P","c":16,"z":5},{"r":"P","c":17,"z":7},{"r":"P","c":18,"z":4},{"r":"P","c":19,"z":3},{"r":"P","c":20,"z":2},{"r":"P","c":21,"z":5},{"r":"P","c":22,"z":5}]
},
"vconcat":[
{"width":537,"height":213.4,"view":{"stroke":"#7f7f7f","strokeWidth":1.5},
"title":{"text":"A","anchor":"start","frame":"group","dx":-57,"dy":16,"offset":0,"fontSize":20,"fontWeight":"bold","color":"#000"},
"encoding":{"x":{"field":"cat","type":"nominal","sort":["NC_1","NC_2","NC_3","siCOPB2","siKIF11","siPLK1","lncRNA sample"],"scale":{"domain":["NC_1","NC_2","NC_3","siCOPB2","siKIF11","siPLK1","lncRNA sample"],"paddingInner":0,"paddingOuter":0.32},"axis":{"title":null,"domain":false,"tickColor":"#7f7f7f","tickSize":6,"labelAngle":0,"labelFontSize":14.5,"labelColor":"#222","labelPadding":5,"labelExpr":"datum.value=='lncRNA sample'?['lncRNA','sample']:datum.label"}}},
"layer":[
{"data":{"name":"swarm"},"mark":{"type":"point","filled":true,"opacity":1,"size":40,"fill":"#a39d87","stroke":"#726d5b","strokeWidth":0.8},"encoding":{"x":{"datum":"lncRNA sample"},"xOffset":{"field":"j","type":"quantitative","scale":{"domain":[-35.15,35.15]}},"y":{"field":"z","type":"quantitative","scale":{"domain":[-2.5,19.67],"nice":false,"zero":false},"axis":{"title":"Z scores H460","titleFontSize":15.5,"titleFontWeight":"bold","titleColor":"#111","titleX":-39,"titleY":111,"values":[0,5,10,15],"domain":false,"tickColor":"#7f7f7f","tickSize":8,"labelFontSize":14.5,"labelColor":"#222","labelPadding":5}}}},
{"data":{"name":"ctrl"},"mark":{"type":"point","filled":true,"opacity":1,"size":34},"encoding":{"xOffset":{"field":"j","type":"quantitative","scale":{"domain":[-35.15,35.15]}},"y":{"field":"z","type":"quantitative"},"color":{"field":"t","type":"nominal","legend":null,"scale":{"domain":["n","p"],"range":["#0a5fd6","#e4000f"]}}}},
{"data":{"name":"box"},"mark":{"type":"rule","color":"#000","strokeWidth":2.2},"encoding":{"y":{"field":"lo","type":"quantitative"},"y2":{"field":"hi"}}},
{"data":{"name":"box"},"mark":{"type":"bar","size":57,"fill":"transparent","stroke":"#000","strokeWidth":2},"encoding":{"y":{"field":"q1","type":"quantitative"},"y2":{"field":"q3"}}},
{"data":{"name":"box"},"mark":{"type":"tick","size":57,"thickness":2,"color":"#000","opacity":1},"encoding":{"y":{"field":"med","type":"quantitative"}}},
{"data":{"name":"box"},"mark":{"type":"tick","size":30,"thickness":2,"color":"#000","opacity":1},"encoding":{"y":{"field":"lo","type":"quantitative"}}},
{"data":{"name":"box"},"mark":{"type":"tick","size":30,"thickness":2,"color":"#000","opacity":1},"encoding":{"y":{"field":"hi","type":"quantitative"}}}
],"resolve":{"scale":{"color":"independent"}}},
{"bounds":"flush","spacing":75,"hconcat":[
{"width":209.3,"height":245,
"title":{"text":"B","anchor":"start","frame":"group","dx":-63,"dy":21,"offset":0,"fontSize":20,"fontWeight":"bold","color":"#000"},
"layer":[
{"data":{"name":"scatter"},"mark":{"type":"point","filled":true,"opacity":1,"size":28,"strokeWidth":0.7},"encoding":{
"x":{"field":"x","type":"quantitative","scale":{"domain":[-5,25],"range":[-42,209.3],"nice":false,"zero":false},"axis":{"values":[-5,0,5,10,15,20,25],"tickCount":10,"offset":-40.8,"title":"Z scores of H460 rep1","titleFontSize":15.5,"titleFontWeight":"bold","titleColor":"#111","titleX":109,"titleY":34,"domainColor":"#555","domainWidth":1.5,"tickColor":"#555","tickWidth":1.5,"tickSize":5,"labelFontSize":14.5,"labelColor":"#222","labelPadding":5,"labelOverlap":false,"labelFlush":false,"labelExpr":"datum.value==0?'':datum.label"}},
"y":{"field":"y","type":"quantitative","scale":{"domain":[-5,25],"nice":false,"zero":false},"axis":{"values":[-5,0,5,10,15,20,25],"tickCount":10,"title":"Z scores of H460 rep2","titleFontSize":15.5,"titleFontWeight":"bold","titleColor":"#111","titleX":-35,"titleY":98,"domainColor":"#555","domainWidth":1.5,"tickColor":"#555","tickWidth":1.5,"tickSize":5,"labelFontSize":14.5,"labelColor":"#222","labelPadding":4,"labelOverlap":false,"labelExpr":"datum.value==0?'':datum.label"}},
"fill":{"field":"t","type":"nominal","scale":{"domain":["n","p","lncRNA sample"],"range":["#0a5fd6","#e4000f","#a39d87"]},"legend":{"orient":"none","legendX":131,"legendY":400,"title":null,"symbolType":"circle","symbolSize":34,"symbolStrokeWidth":0,"labelFontSize":14,"labelColor":"#222","rowPadding":5,"labelOffset":3,"labelExpr":"datum.value=='n'?'negative control':datum.value=='p'?'positive control':'lncRNA sample'"}},
"stroke":{"field":"t","type":"nominal","scale":{"domain":["n","p","lncRNA sample"],"range":["#0a5fd6","#e4000f","#736e5c"]},"legend":null}}},
{"data":{"name":"note"},"mark":{"type":"text","fontSize":14.5,"color":"#222"},"encoding":{"x":{"field":"x","type":"quantitative"},"y":{"field":"y","type":"quantitative"},"text":{"field":"label"}}}
]},
{"width":325,"height":201.4,
"title":{"text":"C","anchor":"start","frame":"group","dx":-34,"dy":25,"offset":0,"fontSize":20,"fontWeight":"bold","color":"#000"},
"data":{"name":"cells"},"mark":{"type":"rect"},"encoding":{
"x":{"field":"c","type":"ordinal","scale":{"paddingInner":0,"paddingOuter":0},"axis":{"orient":"top","title":null,"domain":false,"ticks":false,"labelAngle":0,"labelFontSize":10,"labelColor":"#222","labelPadding":1}},
"y":{"field":"r","type":"nominal","scale":{"range":[3.4,201.4],"paddingInner":0,"paddingOuter":0},"axis":{"title":null,"domain":false,"ticks":false,"labelFontSize":10,"labelColor":"#222","labelPadding":3}},
"color":{"field":"z","type":"quantitative","scale":{"domain":[0,1,2,3,4,5,6,7,8,9,10],"range":["#a3b5cb","#b5c3c1","#c9ccb1","#dad8a0","#eee08c","#ffe580","#ffd878","#ffc27a","#ffa873","#ff8d6e","#ff6b6b"]},"legend":{"orient":"none","legendX":534,"legendY":491,"direction":"horizontal","title":"Z score","titleFontSize":15,"titleFontWeight":"normal","titleColor":"#222","titleAnchor":"middle","titlePadding":4,"gradientLength":55,"gradientThickness":7,"values":[0,10],"labelFontSize":15,"labelColor":"#222","labelOffset":0,"labelExpr":"datum.value==0?'min':'max'","encoding":{"labels":{"align":{"value":"center"}}}}}}}
]}
]}
